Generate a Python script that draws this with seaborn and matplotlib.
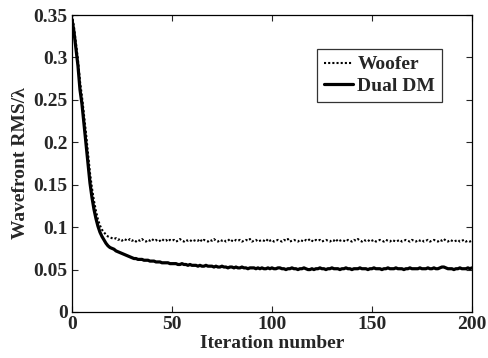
import numpy as np
import pandas as pd
import matplotlib
matplotlib.use("Agg")
import matplotlib.pyplot as plt
import seaborn as sns

# values, iterations 0..200
iterations = list(range(201))

dual_dm = [
    0.345, 0.330, 0.310, 0.290, 0.262, 0.245, 0.222, 0.200, 0.175, 0.152,
    0.135, 0.121, 0.110, 0.101, 0.094, 0.089, 0.085, 0.081, 0.078, 0.076,
    0.075, 0.074, 0.072, 0.071, 0.070, 0.069, 0.068, 0.067, 0.066, 0.065,
    0.064, 0.063, 0.063, 0.062, 0.062, 0.062, 0.061, 0.061, 0.061, 0.060,
    0.060, 0.060, 0.059, 0.059, 0.059, 0.058, 0.058, 0.058, 0.058, 0.057,
    0.057, 0.057, 0.057, 0.056, 0.056, 0.057, 0.056, 0.056, 0.055, 0.056,
    0.055, 0.055, 0.055, 0.054, 0.055, 0.054, 0.054, 0.055, 0.054, 0.054,
    0.054, 0.053, 0.054, 0.053, 0.053, 0.054, 0.053, 0.053, 0.052, 0.053,
    0.053, 0.052, 0.053, 0.052, 0.052, 0.053, 0.052, 0.052, 0.051, 0.052,
    0.052, 0.052, 0.051, 0.052, 0.051, 0.052, 0.051, 0.051, 0.052, 0.051,
    0.052, 0.051, 0.051, 0.052, 0.052, 0.051, 0.051, 0.050, 0.051, 0.051,
    0.052, 0.051, 0.051, 0.050, 0.051, 0.051, 0.052, 0.051, 0.050, 0.050,
    0.051, 0.050, 0.051, 0.051, 0.052, 0.051, 0.051, 0.050, 0.051, 0.051,
    0.052, 0.051, 0.051, 0.051, 0.050, 0.051, 0.051, 0.052, 0.051, 0.051,
    0.050, 0.051, 0.051, 0.051, 0.052, 0.051, 0.051, 0.051, 0.050, 0.051,
    0.051, 0.052, 0.051, 0.051, 0.051, 0.050, 0.051, 0.051, 0.052, 0.051,
    0.051, 0.051, 0.052, 0.051, 0.051, 0.051, 0.050, 0.051, 0.051, 0.052,
    0.051, 0.051, 0.051, 0.051, 0.052, 0.051, 0.051, 0.051, 0.052, 0.051,
    0.051, 0.052, 0.051, 0.051, 0.052, 0.053, 0.053, 0.052, 0.051, 0.051,
    0.051, 0.050, 0.051, 0.051, 0.052, 0.051, 0.051, 0.051, 0.052, 0.051,
    0.052,
]

woofer = [
    0.350, 0.336, 0.316, 0.297, 0.272, 0.254, 0.233, 0.211, 0.187, 0.164,
    0.146, 0.131, 0.119, 0.109, 0.102, 0.097, 0.094, 0.091, 0.089, 0.088,
    0.087, 0.086, 0.087, 0.085, 0.086, 0.084, 0.086, 0.085, 0.084, 0.086,
    0.084, 0.085, 0.083, 0.085, 0.084, 0.086, 0.084, 0.083, 0.085, 0.084,
    0.086, 0.084, 0.085, 0.083, 0.084, 0.086, 0.084, 0.085, 0.083, 0.085,
    0.084, 0.085, 0.083, 0.084, 0.086, 0.084, 0.083, 0.085, 0.084, 0.085,
    0.083, 0.084, 0.085, 0.084, 0.086, 0.083, 0.085, 0.084, 0.083, 0.085,
    0.084, 0.086, 0.084, 0.083, 0.085, 0.084, 0.085, 0.083, 0.084, 0.086,
    0.084, 0.083, 0.085, 0.084, 0.085, 0.083, 0.084, 0.085, 0.084, 0.086,
    0.083, 0.084, 0.085, 0.083, 0.084, 0.085, 0.084, 0.083, 0.086, 0.084,
    0.085, 0.083, 0.084, 0.085, 0.084, 0.083, 0.085, 0.084, 0.086, 0.083,
    0.084, 0.085, 0.084, 0.083, 0.085, 0.084, 0.083, 0.085, 0.084, 0.086,
    0.084, 0.083, 0.085, 0.084, 0.085, 0.083, 0.084, 0.085, 0.084, 0.083,
    0.085, 0.084, 0.086, 0.083, 0.084, 0.085, 0.084, 0.083, 0.085, 0.084,
    0.083, 0.085, 0.084, 0.086, 0.084, 0.083, 0.085, 0.084, 0.085, 0.083,
    0.084, 0.085, 0.083, 0.084, 0.085, 0.084, 0.083, 0.085, 0.084, 0.083,
    0.085, 0.084, 0.083, 0.084, 0.085, 0.083, 0.084, 0.085, 0.084, 0.083,
    0.085, 0.084, 0.083, 0.085, 0.084, 0.085, 0.083, 0.084, 0.085, 0.083,
    0.084, 0.085, 0.084, 0.083, 0.085, 0.084, 0.086, 0.084, 0.083, 0.085,
    0.084, 0.083, 0.084, 0.085, 0.083, 0.084, 0.085, 0.083, 0.084, 0.083,
    0.084,
]

series_names = ["Woofer", "Dual DM"]
x_ticks = [0, 50, 100, 150, 200]
y_ticks = [0, 0.05, 0.1, 0.15, 0.2, 0.25, 0.3, 0.35]
y_ticklabels = ["0", "0.05", "0.1", "0.15", "0.2", "0.25", "0.3", "0.35"]

df = pd.DataFrame({
    "iter": iterations * 2,
    "rms": woofer + dual_dm,
    "series": [series_names[0]] * len(woofer) + [series_names[1]] * len(dual_dm),
})

sns.set_style("ticks")
plt.rcParams["font.family"] = ["Liberation Serif", "DejaVu Serif"]
plt.rcParams["font.weight"] = "bold"
plt.rcParams["axes.labelweight"] = "bold"

fig = plt.figure(figsize=(4.88, 3.58), dpi=100)
ax = fig.add_axes([0.1475, 0.1285, 0.8195, 0.8295])

sns.lineplot(data=df[df.series == "Woofer"], x="iter", y="rms", ax=ax,
             color="black", linestyle=(0, (1, 1)), linewidth=1.5, label="Woofer")
sns.lineplot(data=df[df.series == "Dual DM"], x="iter", y="rms", ax=ax,
             color="black", linestyle="-", linewidth=2.3, label="Dual DM")

ax.set_xlim(0, 200)
ax.set_ylim(0, 0.35)
ax.set_xticks(x_ticks)
ax.set_yticks(y_ticks)
ax.set_yticklabels(y_ticklabels)
ax.tick_params(direction="in", top=True, right=True, labelsize=14, length=4, width=0.8, pad=3)
for lab in ax.get_xticklabels() + ax.get_yticklabels():
    lab.set_fontweight("bold")
for sp in ax.spines.values():
    sp.set_visible(True)
    sp.set_linewidth(0.9)
    sp.set_color("black")

ax.set_xlabel("Iteration number", fontsize=14, fontweight="bold", labelpad=1)
ax.set_ylabel("Wavefront RMS/\u03bb", fontsize=14, fontweight="bold", labelpad=3)

leg = ax.legend(loc="upper right", bbox_to_anchor=(0.925, 0.886), fontsize=14,
                frameon=True, fancybox=False, handlelength=1.5, handletextpad=0.2,
                borderpad=0.35, labelspacing=0.2, borderaxespad=0)
leg.get_frame().set_edgecolor("black")
leg.get_frame().set_linewidth(0.9)
for t in leg.get_texts():
    t.set_fontweight("bold")

fig.savefig("out.png", dpi=100)
